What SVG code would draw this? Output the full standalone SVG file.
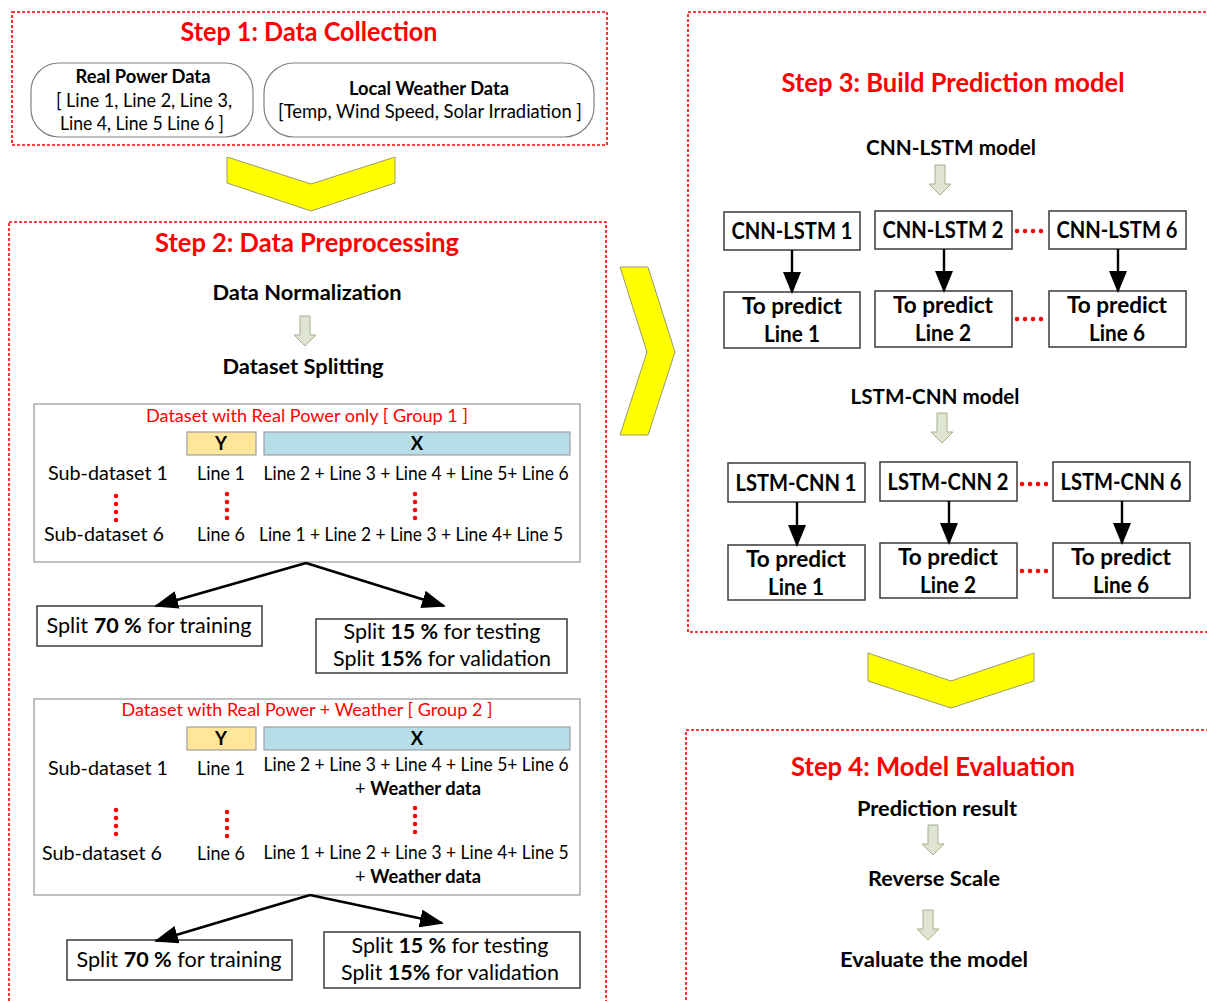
<svg xmlns="http://www.w3.org/2000/svg" width="1207" height="1001" viewBox="0 0 1207 1001">
  <defs>
    <style>
      text { font-family: Lato, "Liberation Sans", sans-serif; fill: #000; }
      .title { font-size: 26px; font-weight: bold; fill: #ff0000; text-anchor: middle; }
      .head { font-size: 21px; font-weight: bold; text-anchor: middle; }
      .body { font-size: 18.5px; text-anchor: middle; }
      .bodyb { font-size: 18.5px; font-weight: bold; text-anchor: middle; }
      .cap { font-size: 17.5px; fill: #ff0000; text-anchor: middle; }
      .split { font-size: 21.5px; text-anchor: middle; }
      .model { font-size: 22.5px; font-weight: bold; text-anchor: middle; }
      .step { fill: none; stroke: #ff0000; stroke-width: 1.6; stroke-dasharray: 3 2; }
      .pill { fill: #fff; stroke: #808080; stroke-width: 1.2; }
      .group { fill: #fff; stroke: #a6a6a6; stroke-width: 1.4; }
      .box { fill: #fff; stroke: #3a3a3a; stroke-width: 1.5; }
      .ybox { fill: #ffe699; stroke: #a0a0a0; stroke-width: 1.2; }
      .xbox { fill: #b7dde8; stroke: #a0a0a0; stroke-width: 1.2; }
      .chev { fill: #ffff00; stroke: #9a9a70; stroke-width: 1; }
      .blk { fill: #dfe5d2; stroke: #a2b08a; stroke-width: 1; }
      .dots { fill: none; stroke: #ff0000; stroke-width: 4.5; stroke-linecap: round; stroke-dasharray: 0 8; }
      .conn { fill: none; stroke: #000; stroke-width: 2.6; }
      .down { fill: none; stroke: #000; stroke-width: 2.4; }
    </style>
    <marker id="head" markerUnits="userSpaceOnUse" markerWidth="24" markerHeight="18" refX="22" refY="9" orient="auto">
      <path d="M0,0 L24,9 L0,18 Z" fill="#000"/>
    </marker>
    <marker id="headv" markerUnits="userSpaceOnUse" markerWidth="22" markerHeight="18" refX="20" refY="9" orient="auto">
      <path d="M0,0 L22,9 L0,18 Z" fill="#000"/>
    </marker>
    <path id="blockArrow" d="M-5,0 L5,0 L5,19 L11,19 L0,30 L-11,19 L-5,19 Z"/>
  </defs>

  <!-- Step 1 -->
  <g id="step1">
    <rect class="step" x="12" y="12" width="595" height="133"/>
    <text class="title" x="309" y="41" textLength="257" lengthAdjust="spacingAndGlyphs">Step 1: Data Collection</text>
  </g>
  <g id="real-power">
    <rect class="pill" x="31" y="63" width="222" height="74" rx="28"/>
    <text class="bodyb" x="143" y="83" textLength="135" lengthAdjust="spacingAndGlyphs">Real Power Data</text>
    <text class="body" x="144" y="107" textLength="176" lengthAdjust="spacingAndGlyphs">[ Line 1, Line 2, Line 3,</text>
    <text class="body" x="142" y="130" textLength="164" lengthAdjust="spacingAndGlyphs">Line 4, Line 5 Line 6 ]</text>
  </g>
  <g id="weather">
    <rect class="pill" x="264" y="63" width="330" height="74" rx="30"/>
    <text class="bodyb" x="429" y="95" textLength="160" lengthAdjust="spacingAndGlyphs">Local Weather Data</text>
    <text class="body" x="430" y="118" textLength="304" lengthAdjust="spacingAndGlyphs">[Temp, Wind Speed, Solar Irradiation ]</text>
  </g>

  <!-- Flow chevrons between steps -->
  <g id="chevrons">
    <polygon class="chev" points="227,157 311,184 395,157 395,183 311,211 227,183"/>
    <polygon class="chev" points="620,267 648,267 675,352 648,435 620,435 647,352"/>
    <polygon class="chev" points="868,653 951,681 1034,653 1034,681 951,708 868,681"/>
  </g>

  <!-- Step 2 -->
  <g id="step2">
    <rect class="step" x="9" y="222" width="597" height="800"/>
    <text class="title" x="307" y="252" textLength="304" lengthAdjust="spacingAndGlyphs">Step 2: Data Preprocessing</text>
    <text class="head" x="307" y="300" textLength="189" lengthAdjust="spacingAndGlyphs">Data Normalization</text>
    <use href="#blockArrow" class="blk" x="305" y="316"/>
    <text class="head" x="303" y="374" textLength="161" lengthAdjust="spacingAndGlyphs">Dataset Splitting</text>
  </g>

  <g id="group1">
    <rect class="group" x="34" y="404" width="546" height="158"/>
    <text class="cap" x="307" y="422" textLength="322" lengthAdjust="spacingAndGlyphs">Dataset with Real Power only [ Group 1 ]</text>
    <rect class="ybox" x="187" y="432" width="69" height="23"/>
    <rect class="xbox" x="264" y="432" width="306" height="23"/>
    <text class="bodyb" x="221" y="450" font-size="17">Y</text>
    <text class="bodyb" x="417" y="450" font-size="17">X</text>
    <text class="body" x="108" y="480" textLength="120" lengthAdjust="spacingAndGlyphs">Sub-dataset 1</text>
    <text class="body" x="221" y="480" textLength="48" lengthAdjust="spacingAndGlyphs">Line 1</text>
    <text class="body" x="416" y="480" textLength="305" lengthAdjust="spacingAndGlyphs">Line 2 + Line 3 + Line 4 + Line 5+ Line 6</text>
    <path class="dots" d="M116,496 V521 M227,494 V519 M415,494 V519"/>
    <text class="body" x="104" y="541" textLength="120" lengthAdjust="spacingAndGlyphs">Sub-dataset 6</text>
    <text class="body" x="221" y="541" textLength="48" lengthAdjust="spacingAndGlyphs">Line 6</text>
    <text class="body" x="411" y="541" textLength="304" lengthAdjust="spacingAndGlyphs">Line 1 + Line 2 + Line 3 + Line 4+ Line 5</text>
  </g>
  <g id="train1">
    <rect class="box" x="37" y="606" width="225" height="40"/>
    <text class="split" x="149" y="633" textLength="205" lengthAdjust="spacingAndGlyphs">Split <tspan font-weight="bold">70 %</tspan> for training</text>
  </g>
  <g id="test1">
    <rect class="box" x="316" y="619" width="251" height="54"/>
    <text class="split" x="442" y="639" textLength="197" lengthAdjust="spacingAndGlyphs">Split <tspan font-weight="bold">15 %</tspan> for testing</text>
    <text class="split" x="442" y="666" textLength="218" lengthAdjust="spacingAndGlyphs">Split <tspan font-weight="bold">15%</tspan> for validation</text>
  </g>

  <g id="group2">
    <rect class="group" x="34" y="699" width="546" height="196"/>
    <text class="cap" x="307" y="716" textLength="371" lengthAdjust="spacingAndGlyphs">Dataset with Real Power + Weather [ Group 2 ]</text>
    <rect class="ybox" x="187" y="727" width="69" height="23"/>
    <rect class="xbox" x="264" y="727" width="306" height="23"/>
    <text class="bodyb" x="221" y="745" font-size="17">Y</text>
    <text class="bodyb" x="417" y="745" font-size="17">X</text>
    <text class="body" x="108" y="775" textLength="120" lengthAdjust="spacingAndGlyphs">Sub-dataset 1</text>
    <text class="body" x="221" y="775" textLength="48" lengthAdjust="spacingAndGlyphs">Line 1</text>
    <text class="body" x="416" y="771" textLength="305" lengthAdjust="spacingAndGlyphs">Line 2 + Line 3 + Line 4 + Line 5+ Line 6</text>
    <text class="body" x="418" y="795" textLength="126" lengthAdjust="spacingAndGlyphs">+ <tspan font-weight="bold">Weather data</tspan></text>
    <path class="dots" d="M116,810 V835 M227,812 V837 M415,808 V833"/>
    <text class="body" x="102" y="860" textLength="120" lengthAdjust="spacingAndGlyphs">Sub-dataset 6</text>
    <text class="body" x="221" y="860" textLength="48" lengthAdjust="spacingAndGlyphs">Line 6</text>
    <text class="body" x="416" y="859" textLength="305" lengthAdjust="spacingAndGlyphs">Line 1 + Line 2 + Line 3 + Line 4+ Line 5</text>
    <text class="body" x="418" y="883" textLength="126" lengthAdjust="spacingAndGlyphs">+ <tspan font-weight="bold">Weather data</tspan></text>
  </g>
  <g id="train2">
    <rect class="box" x="67" y="940" width="225" height="40"/>
    <text class="split" x="179" y="967" textLength="205" lengthAdjust="spacingAndGlyphs">Split <tspan font-weight="bold">70 %</tspan> for training</text>
  </g>
  <g id="test2">
    <rect class="box" x="324" y="932" width="256" height="56"/>
    <text class="split" x="450" y="953" textLength="197" lengthAdjust="spacingAndGlyphs">Split <tspan font-weight="bold">15 %</tspan> for testing</text>
    <text class="split" x="450" y="980" textLength="218" lengthAdjust="spacingAndGlyphs">Split <tspan font-weight="bold">15%</tspan> for validation</text>
  </g>

  <!-- Step 3 -->
  <g id="step3">
    <rect class="step" x="688" y="12" width="530" height="620"/>
    <text class="title" x="953" y="92" textLength="343" lengthAdjust="spacingAndGlyphs">Step 3: Build Prediction model</text>
    <text class="head" x="951" y="155" textLength="170" lengthAdjust="spacingAndGlyphs">CNN-LSTM model</text>
    <use href="#blockArrow" class="blk" x="940" y="165"/>
    <text class="head" x="935" y="404" textLength="169" lengthAdjust="spacingAndGlyphs">LSTM-CNN model</text>
    <use href="#blockArrow" class="blk" x="942" y="413"/>
    <path class="dots" d="M1017,231 H1044 M1017,319 H1044 M1022,484 H1049 M1022,571 H1049"/>
  </g>
  <g id="cnn-lstm-1">
    <rect class="box" x="724" y="212" width="136" height="38"/>
    <text class="model" x="792" y="239" textLength="121" lengthAdjust="spacingAndGlyphs">CNN-LSTM 1</text>
  </g>
  <g id="cnn-lstm-2">
    <rect class="box" x="875" y="211" width="137" height="38"/>
    <text class="model" x="943" y="238" textLength="121" lengthAdjust="spacingAndGlyphs">CNN-LSTM 2</text>
  </g>
  <g id="cnn-lstm-6">
    <rect class="box" x="1049" y="211" width="137" height="38"/>
    <text class="model" x="1117" y="238" textLength="121" lengthAdjust="spacingAndGlyphs">CNN-LSTM 6</text>
  </g>
  <g id="pred-a1">
    <rect class="box" x="724" y="292" width="136" height="56"/>
    <text class="model" x="792" y="314" textLength="100" lengthAdjust="spacingAndGlyphs">To predict</text>
    <text class="model" x="792" y="342" textLength="56" lengthAdjust="spacingAndGlyphs">Line 1</text>
  </g>
  <g id="pred-a2">
    <rect class="box" x="875" y="291" width="137" height="56"/>
    <text class="model" x="943" y="313" textLength="100" lengthAdjust="spacingAndGlyphs">To predict</text>
    <text class="model" x="943" y="341" textLength="56" lengthAdjust="spacingAndGlyphs">Line 2</text>
  </g>
  <g id="pred-a6">
    <rect class="box" x="1049" y="291" width="137" height="56"/>
    <text class="model" x="1117" y="313" textLength="100" lengthAdjust="spacingAndGlyphs">To predict</text>
    <text class="model" x="1117" y="341" textLength="56" lengthAdjust="spacingAndGlyphs">Line 6</text>
  </g>
  <g id="lstm-cnn-1">
    <rect class="box" x="728" y="463" width="137" height="39"/>
    <text class="model" x="796" y="491" textLength="121" lengthAdjust="spacingAndGlyphs">LSTM-CNN 1</text>
  </g>
  <g id="lstm-cnn-2">
    <rect class="box" x="880" y="462" width="137" height="39"/>
    <text class="model" x="948" y="490" textLength="121" lengthAdjust="spacingAndGlyphs">LSTM-CNN 2</text>
  </g>
  <g id="lstm-cnn-6">
    <rect class="box" x="1053" y="462" width="137" height="39"/>
    <text class="model" x="1121" y="490" textLength="121" lengthAdjust="spacingAndGlyphs">LSTM-CNN 6</text>
  </g>
  <g id="pred-b1">
    <rect class="box" x="728" y="545" width="137" height="55"/>
    <text class="model" x="796" y="567" textLength="100" lengthAdjust="spacingAndGlyphs">To predict</text>
    <text class="model" x="796" y="595" textLength="56" lengthAdjust="spacingAndGlyphs">Line 1</text>
  </g>
  <g id="pred-b2">
    <rect class="box" x="880" y="543" width="137" height="55"/>
    <text class="model" x="948" y="565" textLength="100" lengthAdjust="spacingAndGlyphs">To predict</text>
    <text class="model" x="948" y="593" textLength="56" lengthAdjust="spacingAndGlyphs">Line 2</text>
  </g>
  <g id="pred-b6">
    <rect class="box" x="1053" y="543" width="137" height="55"/>
    <text class="model" x="1121" y="565" textLength="100" lengthAdjust="spacingAndGlyphs">To predict</text>
    <text class="model" x="1121" y="593" textLength="56" lengthAdjust="spacingAndGlyphs">Line 6</text>
  </g>

  <!-- Step 4 -->
  <g id="step4">
    <rect class="step" x="686" y="730" width="530" height="290"/>
    <text class="title" x="933" y="776" textLength="284" lengthAdjust="spacingAndGlyphs">Step 4: Model Evaluation</text>
    <text class="head" x="937" y="816" textLength="160" lengthAdjust="spacingAndGlyphs">Prediction result</text>
    <use href="#blockArrow" class="blk" x="933" y="825"/>
    <text class="head" x="934" y="886" textLength="132" lengthAdjust="spacingAndGlyphs">Reverse Scale</text>
    <use href="#blockArrow" class="blk" x="928" y="910"/>
    <text class="head" x="934" y="967" textLength="188" lengthAdjust="spacingAndGlyphs">Evaluate the model</text>
  </g>

  <!-- Connectors -->
  <g id="connectors">
    <path class="conn" d="M306,563 L156,606" marker-end="url(#head)"/>
    <path class="conn" d="M306,563 L444,606" marker-end="url(#head)"/>
    <path class="conn" d="M310,895 L156,941" marker-end="url(#head)"/>
    <path class="conn" d="M310,895 L442,923" marker-end="url(#head)"/>
    <path class="down" d="M792,250 V292" marker-end="url(#headv)"/>
    <path class="down" d="M944,249 V291" marker-end="url(#headv)"/>
    <path class="down" d="M1118,249 V291" marker-end="url(#headv)"/>
    <path class="down" d="M797,502 V545" marker-end="url(#headv)"/>
    <path class="down" d="M949,501 V543" marker-end="url(#headv)"/>
    <path class="down" d="M1122,501 V543" marker-end="url(#headv)"/>
  </g>
</svg>
